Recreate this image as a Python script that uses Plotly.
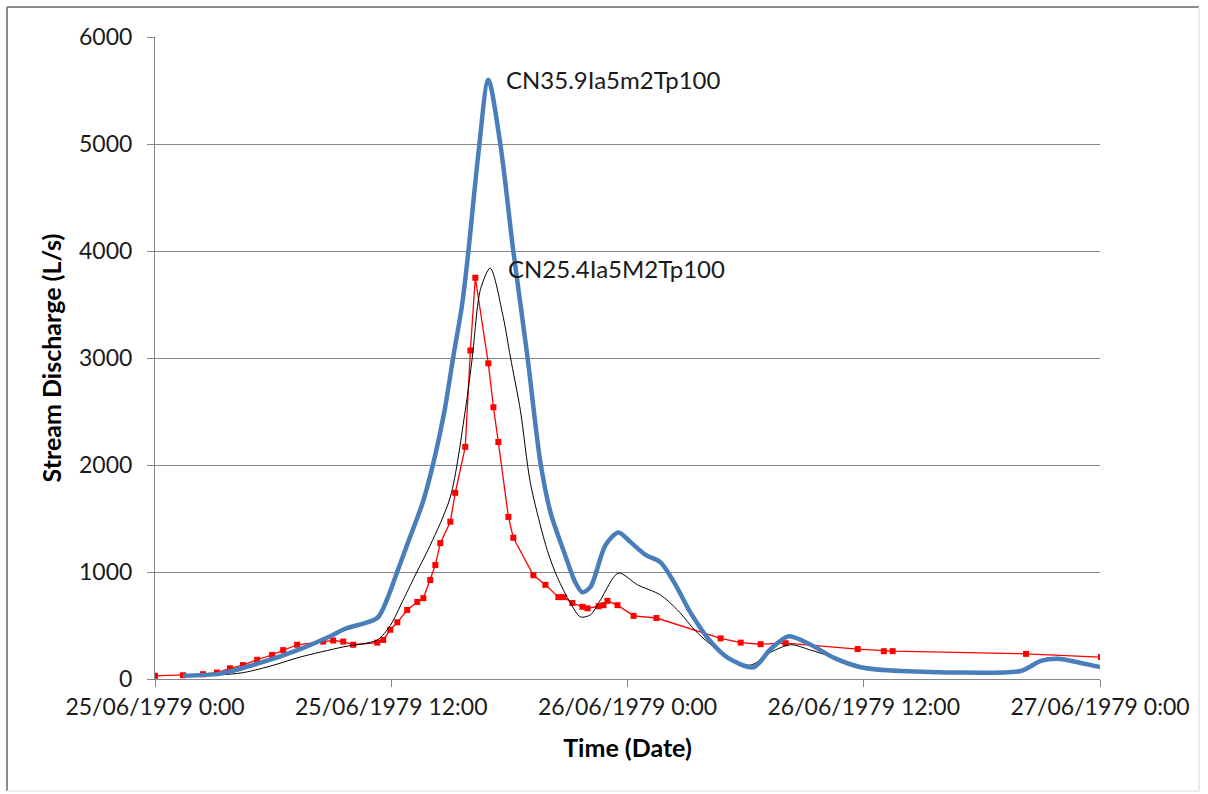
import pandas as pd
import plotly.graph_objects as go

START = pd.Timestamp("1979-06-25 00:00")

# Modelled hydrograph CN35.9Ia5m2Tp100 (hours after start, discharge L/s)
cn359_hours = [1.42, 3.31, 5.34, 7.37, 8.90, 9.66, 11.29, 11.80, 12.30, 12.90, 13.60, 14.14,
               14.70, 15.15, 15.60, 15.92, 16.42, 16.93, 17.54, 18.20, 18.92, 19.58, 20.10,
               20.75, 21.36, 21.71, 22.12, 22.88, 23.54, 24.15, 24.92, 25.68, 26.44, 27.20,
               28.22, 29.08, 30.41, 31.27, 32.19, 33.31, 34.47, 35.85, 37.88, 43.98, 44.49,
               45.00, 45.86, 47.03, 48.05]
cn359_flow = [30, 50, 150, 280, 400, 470, 570, 750, 1000, 1300, 1650, 2020,
              2500, 3010, 3500, 4000, 4900, 5600, 5000, 4000, 3010, 2020, 1550,
              1200, 900, 810, 860, 1250, 1370, 1280, 1160, 1090, 880, 620,
              350, 200, 110, 280, 400, 320, 200, 110, 75, 75, 120,
              170, 190, 150, 110]

# Modelled hydrograph CN25.4Ia5M2Tp100
cn254_hours = [1.42, 4.32, 5.85, 7.37, 9.56, 11.29, 11.95, 12.61, 13.30, 13.98, 15.00, 15.76,
               16.12, 16.53, 17.03, 17.69, 18.05, 18.56, 19.07, 19.93, 20.44, 21.10, 21.61,
               22.12, 22.63, 23.54, 24.51, 25.68, 26.54, 27.56, 29.08, 30.25, 31.27, 32.29,
               33.31, 35.34, 36.36, 37.88, 43.98, 45.00, 45.86, 48.05]
cn254_flow = [25, 55, 120, 205, 300, 365, 500, 740, 1000, 1250, 1700, 2510,
              3010, 3640, 3840, 3380, 3010, 2510, 1830, 1200, 950, 710, 580,
              600, 740, 990, 880, 785, 645, 430, 205, 130, 250, 320,
              270, 150, 100, 75, 75, 160, 180, 110]

# Observed stream discharge
obs_hours = [0.00, 1.42, 2.44, 3.15, 3.81, 4.47, 5.19, 5.95, 6.51, 7.22, 8.54, 9.05, 9.56,
             10.07, 11.29, 11.59, 11.95, 12.31, 12.81, 13.32, 13.63, 13.98, 14.24, 14.49,
             15.00, 15.25, 15.76, 16.02, 16.27, 16.93, 17.19, 17.44, 17.95, 18.20, 19.22,
             19.83, 20.49, 20.75, 21.20, 21.71, 21.97, 22.53, 22.78, 22.98, 23.49, 24.31,
             25.47, 28.73, 29.75, 30.76, 32.03, 35.69, 37.02, 37.47, 44.24, 48.05]
obs_flow = [30, 35, 45, 60, 100, 130, 180, 225, 270, 320, 350, 360, 350,
            320, 340, 365, 460, 530, 645, 720, 755, 925, 1065, 1270,
            1470, 1740, 2170, 3070, 3750, 2950, 2540, 2215, 1515, 1320, 970,
            880, 765, 765, 710, 675, 660, 680, 690, 730, 690, 590,
            570, 380, 340, 325, 335, 280, 260, 260, 235, 205]

tick_hours = [0, 12, 24, 36, 48]
tick_text = ["25/06/1979 0:00", "25/06/1979 12:00", "26/06/1979 0:00",
             "26/06/1979 12:00", "27/06/1979 0:00"]
y_ticks = [0, 1000, 2000, 3000, 4000, 5000, 6000]


def to_time(hours):
    return START + pd.to_timedelta(hours, unit="h")


FONT = "Lato, 'Open Sans', sans-serif"

fig = go.Figure()

fig.add_trace(go.Scatter(
    x=to_time(obs_hours), y=obs_flow, mode="lines+markers", name="Observed",
    line=dict(color="#FF0000", width=1.3),
    marker=dict(symbol="square", size=6, color="#FF0000"),
))
fig.add_trace(go.Scatter(
    x=to_time(cn254_hours), y=cn254_flow, mode="lines", name="CN25.4Ia5M2Tp100",
    line=dict(color="#000000", width=1, shape="spline", smoothing=0.8),
))
fig.add_trace(go.Scatter(
    x=to_time(cn359_hours), y=cn359_flow, mode="lines", name="CN35.9Ia5m2Tp100",
    line=dict(color="#4A7EBB", width=4.5, shape="spline", smoothing=0.8),
))

# Series labels beside the two modelled peaks
peak_labels = [("CN35.9Ia5m2Tp100", 17.75, max(cn359_flow)),
               ("CN25.4Ia5M2Tp100", 17.85, max(cn254_flow))]
for text, h, q in peak_labels:
    fig.add_annotation(x=to_time(h), y=q, text=text, showarrow=False,
                       xanchor="left", yanchor="middle",
                       font=dict(family=FONT, size=24, color="#1a1a1a"))

fig.update_layout(
    width=1208, height=794,
    margin=dict(l=155, r=108, t=37, b=115),
    paper_bgcolor="white", plot_bgcolor="white",
    showlegend=False,
    font=dict(family=FONT, size=23, color="#1a1a1a"),
    xaxis=dict(
        range=[to_time(0), to_time(48)],
        tickvals=to_time(tick_hours), ticktext=tick_text,
        ticks="outside", ticklen=7, tickcolor="#868686",
        showline=True, linecolor="#868686", linewidth=1,
        showgrid=False, zeroline=False,
        tickfont=dict(family=FONT, size=23, color="#1a1a1a"),
        title=dict(text="<b>Time (Date)</b>", standoff=20,
                   font=dict(family=FONT, size=25, color="#000000")),
    ),
    yaxis=dict(
        range=[0, 6000], tickvals=y_ticks,
        ticks="outside", ticklen=7, tickcolor="#868686",
        showline=True, linecolor="#868686", linewidth=1,
        showgrid=True, gridcolor="#868686", gridwidth=1,
        zeroline=False, ticklabelstandoff=10,
        tickfont=dict(family=FONT, size=23, color="#1a1a1a"),
        title=dict(text="<b>Stream Discharge (L/s)</b>", standoff=10,
                   font=dict(family=FONT, size=25, color="#000000")),
    ),
)

# Chart area frame
fig.add_shape(type="line", xref="paper", yref="paper", x0=-148 / 945, x1=-148 / 945,
              y0=-112 / 642, y1=1 + 30 / 642, line=dict(color="#8c8c8c", width=2))
fig.add_shape(type="line", xref="paper", yref="paper", x0=-148 / 945, x1=1 + 99 / 945,
              y0=1 + 30 / 642, y1=1 + 30 / 642, line=dict(color="#8c8c8c", width=2))
fig.add_shape(type="line", xref="paper", yref="paper", x0=1 + 99 / 945, x1=1 + 99 / 945,
              y0=-112 / 642, y1=1 + 30 / 642, line=dict(color="#e6e6e6", width=1.5))
fig.add_shape(type="line", xref="paper", yref="paper", x0=-148 / 945, x1=1 + 99 / 945,
              y0=-112 / 642, y1=-112 / 642, line=dict(color="#e6e6e6", width=1.5))

fig.write_html("out.html")
